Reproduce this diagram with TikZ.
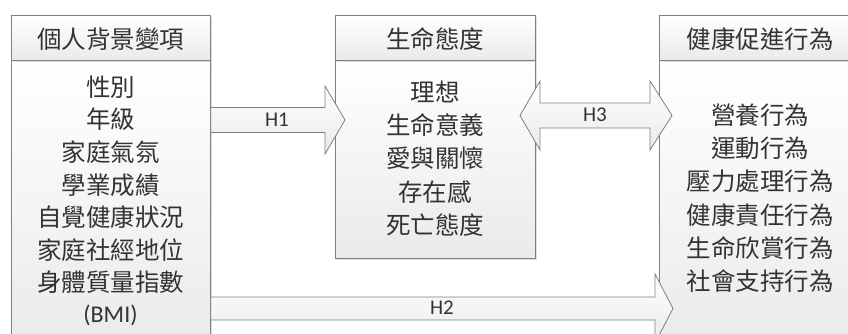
\documentclass[tikz,border=0pt]{standalone}
\usepackage{fontspec}
\newfontfamily\cjk{Noto Sans CJK TC}
\newfontfamily\lat{Carlito}
\usetikzlibrary{calc,shadows}
\definecolor{edge}{HTML}{7F7F7F}
\definecolor{shadeb}{HTML}{EAEAEA}
\definecolor{txt}{HTML}{333333}
\begin{document}
\begin{tikzpicture}[x=1pt,y=-1pt,
  boxpart/.style={draw=edge, line width=0.8pt, top color=white, bottom color=shadeb,
    anchor=north west, inner sep=0pt, minimum width=#1},
  boxpart/.default=199pt,
  blockarrow/.style={draw=edge, line width=0.8pt, top color=white, bottom color=shadeb, line join=miter},
  cjktext/.style={font=\cjk\fontsize{24.5}{28}\selectfont, text=txt, inner sep=0pt},
  hlabel/.style={font=\lat\fontsize{21}{24}\selectfont, text=txt, inner sep=0pt},
  shadowed/.style={drop shadow={shadow xshift=1.5pt, shadow yshift=-1.5pt, opacity=0.25, fill=gray}}
]
\useasboundingbox (0,0) rectangle (848,333);
\clip (0,0) rectangle (848,333);

% left box
\node[boxpart, shadowed, minimum height=290pt] (Lb) at (11,60) {};
\node[boxpart, shadowed, minimum height=45pt] (Lh) at (11,15) {};
% middle box
\node[boxpart=200pt, shadowed, minimum height=198pt] (Mb) at (335,60) {};
\node[boxpart=200pt, shadowed, minimum height=45pt] (Mh) at (335,15) {};
% right box
\node[boxpart=202pt, shadowed, minimum height=290pt] (Rb) at (659,60) {};
\node[boxpart=202pt, shadowed, minimum height=45pt] (Rh) at (659,15) {};

% headers
\node[cjktext] (Lht) at (110.5,39.5) {個人背景變項};
\node[cjktext] (Mht) at (435,39.5) {生命態度};
\node[cjktext] (Rht) at (760,39.5) {健康促進行為};

% bodies
\foreach \t [count=\i] in {性別,年級,家庭氣氛,學業成績,自覺健康狀況,家庭社經地位,身體質量指數}
  \node[cjktext] (L\i) at (110.5,{87+32.6*(\i-1)}) {\t};
\node[cjktext, font=\lat\fontsize{24}{28}\selectfont] (L8) at (110.5,315) {(BMI)};
\foreach \t [count=\i] in {理想,生命意義,愛與關懷,存在感,死亡態度}
  \node[cjktext] (M\i) at (435,{91.7+33.3*(\i-1)}) {\t};
\foreach \t [count=\i] in {營養行為,運動行為,壓力處理行為,健康責任行為,生命欣賞行為,社會支持行為}
  \node[cjktext] (R\i) at (760,{115.7+33*(\i-1)}) {\t};

% H1 arrow
\coordinate (h1a) at (Lb.east |- 0,120);
\coordinate (h1b) at (345,120);
\draw[blockarrow] ($(h1a)+(0,-12.5)$) -- ($(h1b)+(-20,-12.5)$) -- ($(h1b)+(-20,-34)$) -- (h1b)
  -- ($(h1b)+(-20,34)$) -- ($(h1b)+(-20,12.5)$) -- ($(h1a)+(0,12.5)$) -- cycle;
\node[hlabel] (H1) at (277,120) {H1};

% H3 double arrow
\coordinate (h3a) at (520,115.5);
\coordinate (h3b) at (672,115.5);
\draw[blockarrow] (h3a) -- ($(h3a)+(20,-34.5)$) -- ($(h3a)+(20,-12.5)$) -- ($(h3b)+(-22,-12.5)$)
  -- ($(h3b)+(-22,-34.5)$) -- (h3b) -- ($(h3b)+(-22,34.5)$) -- ($(h3b)+(-22,12.5)$)
  -- ($(h3a)+(20,12.5)$) -- ($(h3a)+(20,34.5)$) -- cycle;
\node[hlabel] (H3) at (595,115) {H3};

% H2 arrow
\coordinate (h2a) at (Lb.east |- 0,308.5);
\coordinate (h2b) at (673,308.5);
\draw[blockarrow] ($(h2a)+(0,-11.5)$) -- ($(h2b)+(-18,-11.5)$) -- ($(h2b)+(-18,-34.5)$) -- (h2b)
  -- ($(h2b)+(-18,34.5)$) -- ($(h2b)+(-18,11.5)$) -- ($(h2a)+(0,11.5)$) -- cycle;
\node[hlabel] (H2) at (442,308) {H2};
\end{tikzpicture}
\end{document}
